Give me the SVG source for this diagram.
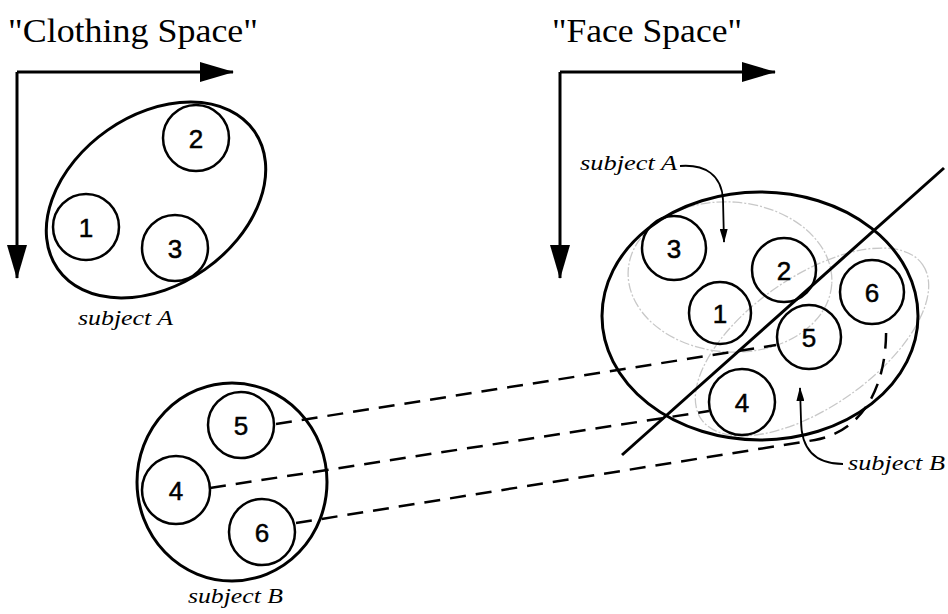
<svg xmlns="http://www.w3.org/2000/svg" width="948" height="614" viewBox="0 0 948 614">
<defs>
<marker id="bigArrow" viewBox="0 0 34 20" refX="33" refY="10" markerWidth="34" markerHeight="20" markerUnits="userSpaceOnUse" orient="auto">
<path d="M0,0 L34,10 L0,20 Z" fill="#000"/>
</marker>
<marker id="smallArrow" viewBox="0 0 14 8" refX="13" refY="4" markerWidth="14" markerHeight="8" markerUnits="userSpaceOnUse" orient="auto">
<path d="M0,0 L14,4 L0,8 Z" fill="#000"/>
</marker>
</defs>
<style>
.title{font-family:"Liberation Serif","DejaVu Serif",serif;font-size:33px;fill:#000}
.lbl{font-family:"Liberation Serif","DejaVu Serif",serif;font-style:italic;font-size:22px;fill:#000}
.num{font-family:"Liberation Sans",Arial,sans-serif;font-size:26px;fill:#000;stroke:#000;stroke-width:0.5;text-anchor:middle;dominant-baseline:central}
.circ{fill:none;stroke:#000;stroke-width:2.5}
.group{fill:none;stroke:#000;stroke-width:3}
.gray{fill:none;stroke:#c8c8c8;stroke-width:1.3;stroke-dasharray:10 2 2 2}
.axis{fill:none;stroke:#000;stroke-width:3;marker-end:url(#bigArrow)}
.dash{fill:none;stroke:#000;stroke-width:2.5;stroke-dasharray:16 10}
.pointer{fill:none;stroke:#000;stroke-width:1.8;marker-end:url(#smallArrow)}
</style>

<g id="clothing-space">
<text class="title" x="8" y="42" textLength="250" lengthAdjust="spacingAndGlyphs">"Clothing Space"</text>
<path class="axis" d="M17,72 L233,72"/>
<path class="axis" d="M17,72 L17,278"/>
</g>

<g id="face-space">
<text class="title" x="552" y="42" textLength="190" lengthAdjust="spacingAndGlyphs">"Face Space"</text>
<path class="axis" d="M560,72 L775,72"/>
<path class="axis" d="M560,72 L560,278"/>
</g>

<g id="clothing-subjectA">
<ellipse class="group" cx="156" cy="200" rx="120" ry="85" transform="rotate(-35 156 200)"/>
<text class="lbl" x="78" y="325" textLength="95" lengthAdjust="spacingAndGlyphs">subject A</text>
</g>
<g id="c-node1"><circle class="circ" cx="86" cy="227" r="33"/><text class="num" x="86" y="228">1</text></g>
<g id="c-node2"><circle class="circ" cx="196" cy="138" r="33"/><text class="num" x="196" y="139">2</text></g>
<g id="c-node3"><circle class="circ" cx="175" cy="248" r="33"/><text class="num" x="175" y="249">3</text></g>

<g id="clothing-subjectB">
<ellipse class="group" cx="232" cy="482" rx="95" ry="99"/>
<text class="lbl" x="188" y="603" textLength="95" lengthAdjust="spacingAndGlyphs">subject B</text>
</g>
<g id="c-node5"><circle class="circ" cx="241" cy="425" r="33"/><text class="num" x="241" y="426">5</text></g>
<g id="c-node4"><circle class="circ" cx="176" cy="490" r="34"/><text class="num" x="176" y="491">4</text></g>
<g id="c-node6"><circle class="circ" cx="262" cy="532" r="33"/><text class="num" x="262" y="533">6</text></g>

<g id="face-clusters">
<ellipse class="gray" cx="730" cy="277" rx="102" ry="75" transform="rotate(4 730 277)"/>
<ellipse class="gray" cx="812" cy="342" rx="135" ry="65" transform="rotate(-35 812 342)"/>
<ellipse class="group" cx="760" cy="316" rx="158" ry="124"/>
<path fill="none" stroke="#000" stroke-width="3" d="M622,455 L944,168"/>
</g>
<g id="f-node3"><circle class="circ" cx="674" cy="248" r="32"/><text class="num" x="674" y="249">3</text></g>
<g id="f-node2"><circle class="circ" cx="784" cy="270" r="32"/><text class="num" x="784" y="271">2</text></g>
<g id="f-node1"><circle class="circ" cx="720" cy="313" r="31"/><text class="num" x="720" y="314">1</text></g>
<g id="f-node5"><circle class="circ" cx="809" cy="337" r="32"/><text class="num" x="809" y="338">5</text></g>
<g id="f-node6"><circle class="circ" cx="872" cy="292" r="32"/><text class="num" x="872" y="293">6</text></g>
<g id="f-node4"><circle class="circ" cx="742" cy="402" r="33"/><text class="num" x="742" y="403">4</text></g>

<g id="face-labels">
<text class="lbl" x="580" y="170" textLength="97" lengthAdjust="spacingAndGlyphs">subject A</text>
<text class="lbl" x="848" y="470" textLength="97" lengthAdjust="spacingAndGlyphs">subject B</text>
</g>

<g id="connectors">
<path class="dash" d="M276,424 L776,345"/>
<path class="dash" d="M210,488 L709,411"/>
<path class="dash" d="M296,523 L815,440 C860,432 888,390 886,324"/>
<path class="pointer" d="M680,166 C705,164 722,175 723,200 L724,242"/>
<path class="pointer" d="M843,464 C815,464 801,450 801,420 L800,388"/>
</g>
</svg>
